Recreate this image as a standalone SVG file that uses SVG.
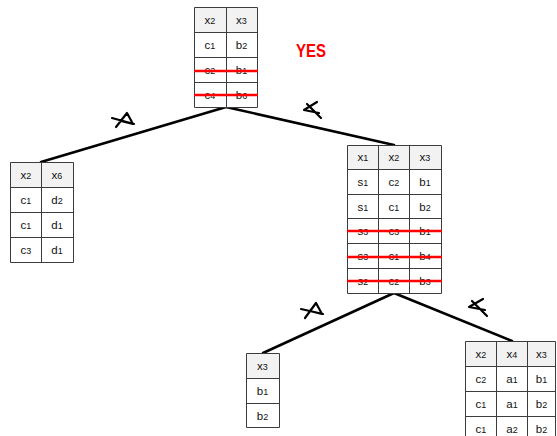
<svg xmlns="http://www.w3.org/2000/svg" width="557" height="436" viewBox="0 0 557 436">
  <style>
    .hd { fill: #f2f2f2; stroke: none; }
    .bd { fill: #ffffff; stroke: none; }
    .grid { fill: none; stroke: #3c3c3c; stroke-width: 1; }
    .t { font-family: "Liberation Sans", Arial, sans-serif; font-size: 11.5px; fill: #111; text-anchor: middle; }
    .t tspan.n { font-size: 9px; }
    .strike { stroke: #ff0000; stroke-width: 2.6; }
    .edge { fill: none; stroke: #000; stroke-width: 2.6; stroke-linecap: round; }
    .mark { fill: none; stroke: #000; stroke-width: 2.2; stroke-linecap: round; stroke-linejoin: round; }
    .yes { font-family: "Liberation Sans", Arial, sans-serif; font-size: 18px; font-weight: bold; fill: #ff0000; }
  </style>

  <!-- connectors between the tables -->
  <g id="connectors">
    <path class="edge" d="M226,107 L41,162"/>
    <path class="edge" d="M226,107 L394,145"/>
    <path class="edge" d="M394,293 L263,353"/>
    <path class="edge" d="M394,293 L512,341"/>
    <!-- hand-drawn marks on the edges -->
    <path class="mark" d="M116,127 L127,113 L133,124 L121,121 M112,118 L134,124"/>
    <path class="mark" d="M317,102 L304,110 L319,113 M307,104 L321,118"/>
    <path class="mark" d="M305,318 L316,303 L322,314 L310,311 M301,309 L323,314"/>
    <path class="mark" d="M483,299 L469,307 L485,310 M472,301 L487,316"/>
  </g>

  <!-- root table -->
  <g id="root">
    <rect class="hd" x="194" y="7" width="63" height="25"/>
    <rect class="bd" x="194" y="32" width="63" height="75"/>
    <path class="grid" d="M194.5,7.5 H257.5 V107.5 H194.5 Z M226.5,7.5 V107.5 M194.5,32.5 H257.5 M194.5,57.5 H257.5 M194.5,82.5 H257.5"/>
    <text class="t" x="210" y="24">x<tspan class="n">2</tspan></text>
    <text class="t" x="241.5" y="24">x<tspan class="n">3</tspan></text>
    <text class="t" x="210" y="49">c<tspan class="n">1</tspan></text>
    <text class="t" x="241.5" y="49">b<tspan class="n">2</tspan></text>
    <text class="t" x="210" y="74">c<tspan class="n">2</tspan></text>
    <text class="t" x="241.5" y="74">b<tspan class="n">1</tspan></text>
    <text class="t" x="210" y="99">c<tspan class="n">4</tspan></text>
    <text class="t" x="241.5" y="99">b<tspan class="n">6</tspan></text>
    <path class="strike" d="M194,71 H258 M194,95 H258"/>
  </g>

  <g id="verdict">
    <text class="yes" x="296" y="57" textLength="30" lengthAdjust="spacingAndGlyphs">YES</text>
  </g>

  <!-- left child table -->
  <g id="left">
    <rect class="hd" x="10" y="162" width="63" height="25"/>
    <rect class="bd" x="10" y="187" width="63" height="75"/>
    <path class="grid" d="M10.5,162.5 H73.5 V262.5 H10.5 Z M41.5,162.5 V262.5 M10.5,187.5 H73.5 M10.5,212.5 H73.5 M10.5,237.5 H73.5"/>
    <text class="t" x="26" y="179">x<tspan class="n">2</tspan></text>
    <text class="t" x="57" y="179">x<tspan class="n">6</tspan></text>
    <text class="t" x="26" y="204">c<tspan class="n">1</tspan></text>
    <text class="t" x="57" y="204">d<tspan class="n">2</tspan></text>
    <text class="t" x="26" y="229">c<tspan class="n">1</tspan></text>
    <text class="t" x="57" y="229">d<tspan class="n">1</tspan></text>
    <text class="t" x="26" y="254">c<tspan class="n">3</tspan></text>
    <text class="t" x="57" y="254">d<tspan class="n">1</tspan></text>
  </g>

  <!-- right child table -->
  <g id="middle">
    <rect class="hd" x="347" y="145" width="94" height="25"/>
    <rect class="bd" x="347" y="170" width="94" height="123"/>
    <path class="grid" d="M347.5,145.5 H441.5 V293.5 H347.5 Z M378.5,145.5 V293.5 M409.5,145.5 V293.5 M347.5,169.5 H441.5 M347.5,194.5 H441.5 M347.5,218.5 H441.5 M347.5,243.5 H441.5 M347.5,268.5 H441.5"/>
    <text class="t" x="363" y="161">x<tspan class="n">1</tspan></text>
    <text class="t" x="394" y="161">x<tspan class="n">2</tspan></text>
    <text class="t" x="425" y="161">x<tspan class="n">3</tspan></text>
    <text class="t" x="363" y="186">s<tspan class="n">1</tspan></text>
    <text class="t" x="394" y="186">c<tspan class="n">2</tspan></text>
    <text class="t" x="425" y="186">b<tspan class="n">1</tspan></text>
    <text class="t" x="363" y="211">s<tspan class="n">1</tspan></text>
    <text class="t" x="394" y="211">c<tspan class="n">1</tspan></text>
    <text class="t" x="425" y="211">b<tspan class="n">2</tspan></text>
    <text class="t" x="363" y="235">s<tspan class="n">3</tspan></text>
    <text class="t" x="394" y="235">c<tspan class="n">3</tspan></text>
    <text class="t" x="425" y="235">b<tspan class="n">1</tspan></text>
    <text class="t" x="363" y="260">s<tspan class="n">3</tspan></text>
    <text class="t" x="394" y="260">c<tspan class="n">1</tspan></text>
    <text class="t" x="425" y="260">b<tspan class="n">4</tspan></text>
    <text class="t" x="363" y="285">s<tspan class="n">2</tspan></text>
    <text class="t" x="394" y="285">c<tspan class="n">2</tspan></text>
    <text class="t" x="425" y="285">b<tspan class="n">3</tspan></text>
    <path class="strike" d="M347,231 H442 M347,257 H442 M347,281 H442"/>
  </g>

  <!-- lower-left table -->
  <g id="bottom-left">
    <rect class="hd" x="246" y="353" width="33" height="25"/>
    <rect class="bd" x="246" y="378" width="33" height="49"/>
    <path class="grid" d="M246.5,353.5 H279.5 V427.5 H246.5 Z M246.5,378.5 H279.5 M246.5,403.5 H279.5"/>
    <text class="t" x="262.5" y="370">x<tspan class="n">3</tspan></text>
    <text class="t" x="262.5" y="395">b<tspan class="n">1</tspan></text>
    <text class="t" x="262.5" y="420">b<tspan class="n">2</tspan></text>
  </g>

  <!-- lower-right table -->
  <g id="bottom-right">
    <rect class="hd" x="465" y="341" width="91" height="25"/>
    <rect class="bd" x="465" y="366" width="91" height="75"/>
    <path class="grid" d="M465.5,441 V341.5 H555.5 V441 M496.5,341.5 V441 M527.5,341.5 V441 M465.5,366.5 H555.5 M465.5,391.5 H555.5 M465.5,416.5 H555.5"/>
    <text class="t" x="481" y="358">x<tspan class="n">2</tspan></text>
    <text class="t" x="512" y="358">x<tspan class="n">4</tspan></text>
    <text class="t" x="541.5" y="358">x<tspan class="n">3</tspan></text>
    <text class="t" x="481" y="383">c<tspan class="n">2</tspan></text>
    <text class="t" x="512" y="383">a<tspan class="n">1</tspan></text>
    <text class="t" x="541.5" y="383">b<tspan class="n">1</tspan></text>
    <text class="t" x="481" y="408">c<tspan class="n">1</tspan></text>
    <text class="t" x="512" y="408">a<tspan class="n">1</tspan></text>
    <text class="t" x="541.5" y="408">b<tspan class="n">2</tspan></text>
    <text class="t" x="481" y="433">c<tspan class="n">1</tspan></text>
    <text class="t" x="512" y="433">a<tspan class="n">2</tspan></text>
    <text class="t" x="541.5" y="433">b<tspan class="n">2</tspan></text>
  </g>
</svg>
